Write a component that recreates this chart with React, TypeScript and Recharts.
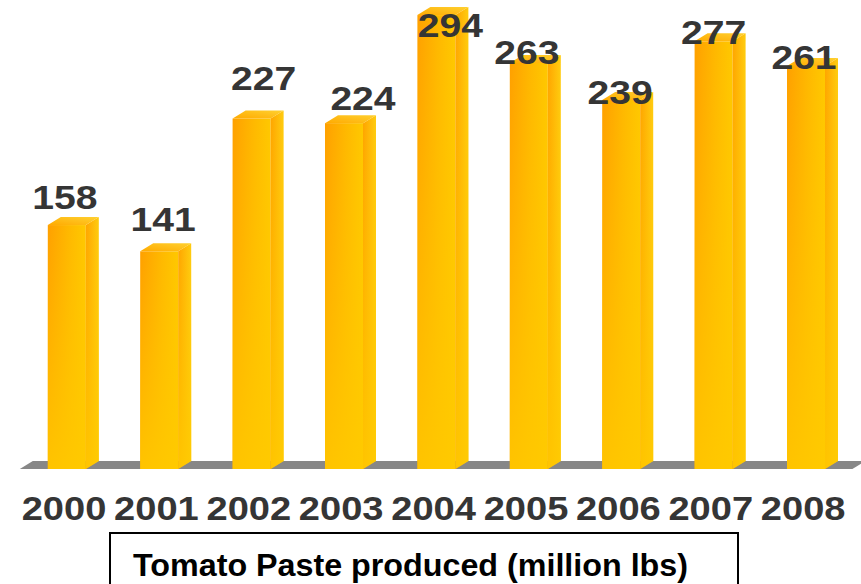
import React from 'react';
import { BarChart, Bar, XAxis, YAxis, Customized, LabelList } from 'recharts';

// Tomato paste production by year, million lbs
const years = ['2000', '2001', '2002', '2003', '2004', '2005', '2006', '2007', '2008'];
const pasteMillionLbs = [158, 141, 227, 224, 294, 263, 239, 277, 261];

// Hand-placed nudges for the value labels (px, relative to the spot just above each bar)
const labelShiftX = [-2, 4, 12, 19, 14, -2, -1, 0, -2];
const labelShiftY = [-4, -8, -17, -1, 34, 13, 16, 15, 15];

const rows = years.map((year, i) => ({ year, value: pasteMillionLbs[i] }));

const W = 861;
const H = 584;
const MARGIN = { top: 5.8, right: 8.6, bottom: 75, left: 20.8 };
const AXIS_H = 40;
const DX = 13; // depth of the 3D extrusion, horizontal
const DY = 8; // depth of the 3D extrusion, vertical
const FONT = '"Liberation Sans", Arial, Helvetica, sans-serif';
const INK = '#353535';

const scaleXAbout = (x: number, y: number, k: number) =>
  `translate(${x} ${y}) scale(${k} 1) translate(${-x} ${-y})`;

function Bar3D(props: any) {
  const { x, y, width: w, height: h } = props;
  if (h == null || w == null) return null;
  const b = y + h;
  const side = `${x + w},${y} ${x + w + DX},${y - DY} ${x + w + DX},${b - DY} ${x + w},${b}`;
  const top = `${x},${y} ${x + DX},${y - DY} ${x + w + DX},${y - DY} ${x + w},${y}`;
  return (
    <g>
      <rect x={x} y={y} width={w} height={h} fill="url(#frontH)" />
      <rect x={x} y={y} width={w} height={h} fill="url(#fadeV)" />
      <polygon points={side} fill="url(#sideH)" />
      <polygon points={side} fill="url(#fadeV)" />
      <polygon points={top} fill="url(#topG)" />
    </g>
  );
}

function ValueLabel(props: any) {
  const { x, y, width: w, value, index } = props;
  const cx = x + w / 2 + labelShiftX[index];
  const by = y - 12 + labelShiftY[index];
  return (
    <text
      x={cx}
      y={by}
      textAnchor="middle"
      fontFamily={FONT}
      fontWeight="bold"
      fontSize={34}
      fill={INK}
      transform={scaleXAbout(cx, by, 1.15)}
    >
      {value}
    </text>
  );
}

function YearTick(props: any) {
  const { x, y, payload } = props;
  const cx = x - 3;
  const by = y + 43;
  return (
    <text
      x={cx}
      y={by}
      textAnchor="middle"
      fontFamily={FONT}
      fontWeight="bold"
      fontSize={34}
      fill={INK}
      transform={scaleXAbout(cx, by, 1.12)}
    >
      {payload.value}
    </text>
  );
}

// Grey floor slab that the bars stand on
function Floor() {
  const base = H - MARGIN.bottom - AXIS_H;
  const l = MARGIN.left - 1;
  const r = W - MARGIN.right;
  return (
    <polygon
      points={`${l},${base} ${l + DX},${base - DY} ${r + DX},${base - DY} ${r},${base}`}
      fill="#878787"
    />
  );
}

function TitleBox() {
  return (
    <g>
      <rect x={110} y={533} width={628} height={70} fill="none" stroke="#000" strokeWidth={2} />
      <text
        x={133}
        y={576}
        fontFamily={FONT}
        fontWeight="bold"
        fontSize={31}
        fill="#000"
        textLength={555}
        lengthAdjust="spacingAndGlyphs"
      >
        Tomato Paste produced (million lbs)
      </text>
    </g>
  );
}

export default function App() {
  return (
    <div style={{ position: 'absolute', left: 0, top: 0, background: '#fff' }}>
      <BarChart width={W} height={H} data={rows} margin={MARGIN} barSize={38}>
        <defs>
          <linearGradient id="frontH" x1="0" y1="0" x2="1" y2="0">
            <stop offset="0" stopColor="#FFA000" />
            <stop offset="0.55" stopColor="#FFB800" />
            <stop offset="1" stopColor="#FFC800" />
          </linearGradient>
          <linearGradient id="sideH" x1="0" y1="0" x2="1" y2="0">
            <stop offset="0" stopColor="#FFA400" />
            <stop offset="1" stopColor="#FFCC10" />
          </linearGradient>
          <linearGradient id="fadeV" x1="0" y1="0" x2="0" y2="1">
            <stop offset="0" stopColor="#FFCA00" stopOpacity={0} />
            <stop offset="1" stopColor="#FFCA00" stopOpacity={0.85} />
          </linearGradient>
          <linearGradient id="topG" x1="0" y1="1" x2="1" y2="0">
            <stop offset="0" stopColor="#FFAA00" />
            <stop offset="1" stopColor="#FFD030" />
          </linearGradient>
        </defs>
        <Customized component={<Floor />} />
        <XAxis
          dataKey="year"
          axisLine={false}
          tickLine={false}
          height={AXIS_H}
          interval={0}
          tick={<YearTick />}
        />
        <YAxis hide domain={[0, 300]} />
        <Bar dataKey="value" shape={<Bar3D />} isAnimationActive={false}>
          <LabelList dataKey="value" content={<ValueLabel />} />
        </Bar>
        <Customized component={<TitleBox />} />
      </BarChart>
    </div>
  );
}
